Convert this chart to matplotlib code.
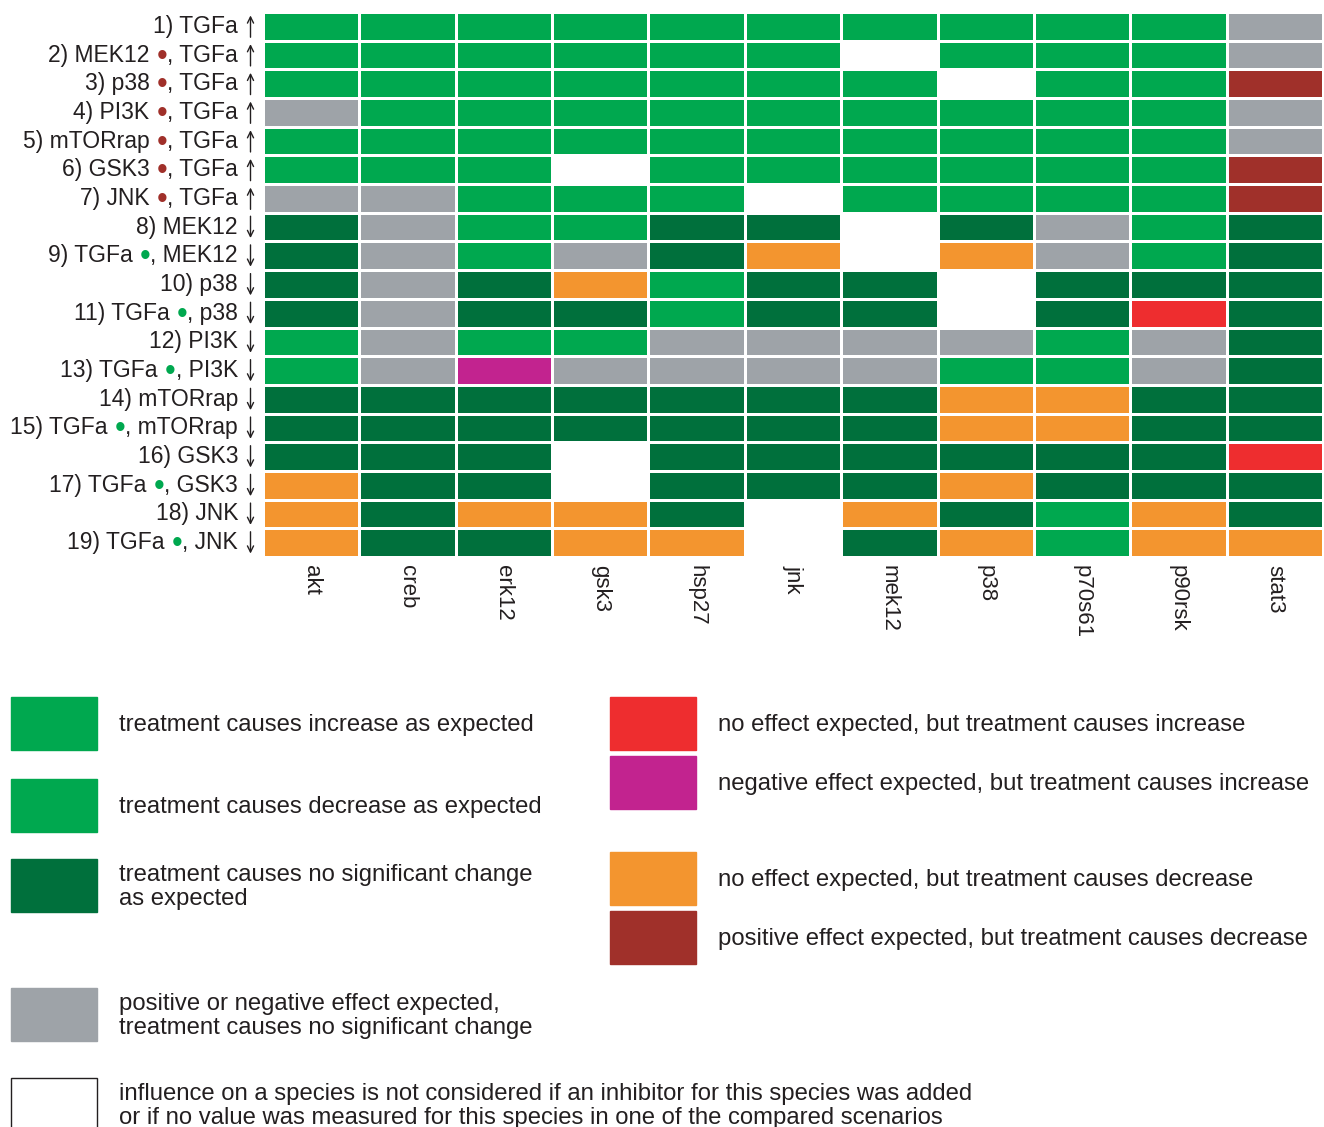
import numpy as np
import matplotlib
matplotlib.use("Agg")
import matplotlib.pyplot as plt
from matplotlib.colors import ListedColormap
from matplotlib.patches import Rectangle
from matplotlib.transforms import blended_transform_factory, offset_copy

plt.rcParams["font.family"] = ["Liberation Sans", "DejaVu Sans"]
TXT = "#231f20"

# measured species (columns)
species = ["akt", "creb", "erk12", "gsk3", "hsp27", "jnk", "mek12",
           "p38", "p70s61", "p90rsk", "stat3"]

# row labels split in pieces: prefix, coloured dot, suffix, arrow direction
row_prefix = ["1) TGFa", "2) MEK12", "3) p38", "4) PI3K", "5) mTORrap", "6) GSK3",
              "7) JNK", "8) MEK12", "9) TGFa", "10) p38", "11) TGFa", "12) PI3K",
              "13) TGFa", "14) mTORrap", "15) TGFa", "16) GSK3", "17) TGFa",
              "18) JNK", "19) TGFa"]
row_dot = [None, "inh", "inh", "inh", "inh", "inh", "inh", None, "stim", None, "stim",
           None, "stim", None, "stim", None, "stim", None, "stim"]
row_suffix = ["", ", TGFa", ", TGFa", ", TGFa", ", TGFa", ", TGFa", ", TGFa", "",
              ", MEK12", "", ", p38", "", ", PI3K", "", ", mTORrap", "", ", GSK3",
              "", ", JNK"]
row_arrow = ["up"] * 7 + ["down"] * 12

# outcome category for each (row, species)
outcome = [
    ["inc"] * 10 + ["pn"],
    ["inc"] * 6 + ["na"] + ["inc"] * 3 + ["pn"],
    ["inc"] * 7 + ["na", "inc", "inc", "pos"],
    ["pn"] + ["inc"] * 9 + ["pn"],
    ["inc"] * 10 + ["pn"],
    ["inc", "inc", "inc", "na"] + ["inc"] * 6 + ["pos"],
    ["pn", "pn", "inc", "inc", "inc", "na", "inc", "inc", "inc", "inc", "pos"],
    ["ns", "pn", "dec", "dec", "ns", "ns", "na", "ns", "pn", "dec", "ns"],
    ["ns", "pn", "dec", "pn", "ns", "nd", "na", "nd", "pn", "dec", "ns"],
    ["ns", "pn", "ns", "nd", "dec", "ns", "ns", "na", "ns", "ns", "ns"],
    ["ns", "pn", "ns", "ns", "dec", "ns", "ns", "na", "ns", "ni", "ns"],
    ["dec", "pn", "dec", "dec", "pn", "pn", "pn", "pn", "dec", "pn", "ns"],
    ["dec", "pn", "neg", "pn", "pn", "pn", "pn", "dec", "dec", "pn", "ns"],
    ["ns"] * 7 + ["nd", "nd", "ns", "ns"],
    ["ns"] * 7 + ["nd", "nd", "ns", "ns"],
    ["ns", "ns", "ns", "na", "ns", "ns", "ns", "ns", "ns", "ns", "ni"],
    ["nd", "ns", "ns", "na", "ns", "ns", "ns", "nd", "ns", "ns", "ns"],
    ["nd", "ns", "nd", "nd", "ns", "na", "nd", "ns", "dec", "nd", "ns"],
    ["nd", "ns", "ns", "nd", "nd", "na", "ns", "nd", "dec", "nd", "nd"],
]

categories = ["inc", "dec", "ns", "pn", "na", "ni", "neg", "nd", "pos"]
cat_colors = ["#00a84f", "#00a84f", "#00703c", "#9ea3a8", "#ffffff",
              "#ee2d2f", "#c2238f", "#f3952f", "#a0302a"]
cat_labels = [
    "treatment causes increase as expected",
    "treatment causes decrease as expected",
    "treatment causes no significant change\nas expected",
    "positive or negative effect expected,\ntreatment causes no significant change",
    "influence on a species is not considered if an inhibitor for this species was added\n"
    "or if no value was measured for this species in one of the compared scenarios",
    "no effect expected, but treatment causes increase",
    "negative effect expected, but treatment causes increase",
    "no effect expected, but treatment causes decrease",
    "positive effect expected, but treatment causes decrease",
]
dot_colors = {"inh": "#a0302a", "stim": "#00a84f"}

W, H = 1324, 1127
fig = plt.figure(figsize=(W / 100, H / 100), dpi=100)

# heatmap
ax = fig.add_axes([263 / W, 1 - 557 / H, 1060 / W, 545 / H])
idx = np.array([[categories.index(c) for c in r] for r in outcome])
ax.pcolormesh(idx, cmap=ListedColormap(cat_colors), vmin=-0.5, vmax=len(categories) - 0.5,
              edgecolors="white", linewidth=1.0)
ax.set_xlim(0, len(species))
ax.set_ylim(len(outcome), 0)
for s in ax.spines.values():
    s.set_visible(False)
ax.set_xticks(np.arange(len(species)) + 0.5)
ax.set_xticklabels(species, rotation=-90, va="top", ha="center", fontsize=16, color=TXT)
ax.set_yticks([])
ax.tick_params(axis="x", length=0, pad=6)

# row labels: thin arrow next to the grid, text built right to left
FS = 16.5
blend = blended_transform_factory(ax.transAxes, ax.transData)
arrow_tr = offset_copy(blend, fig=fig, x=-12.5, y=0, units="dots")
half = 0.38  # half arrow length in row units
for i in range(len(outcome)):
    y = i + 0.5
    head, tail = (y - half, y + half) if row_arrow[i] == "up" else (y + half, y - half)
    ax.annotate("", xy=(0, head), xycoords=arrow_tr, xytext=(0, tail),
                textcoords=arrow_tr,
                arrowprops=dict(arrowstyle="->", lw=1.0, color=TXT,
                                shrinkA=0, shrinkB=0, mutation_scale=11))
    kw = dict(fontsize=FS, color=TXT, va="center", ha="right", textcoords="offset pixels")
    first = row_prefix[i] if row_dot[i] is None else row_suffix[i]
    t = ax.annotate(first, xy=(0, y), xycoords=("axes fraction", "data"),
                    xytext=(-25, 0), **kw)
    if row_dot[i] is None:
        continue
    d = ax.annotate("•", xy=(0, 0.5), xycoords=t, xytext=(0, -1.5),
                    textcoords="offset pixels", fontsize=22,
                    color=dot_colors[row_dot[i]], va="center", ha="right")
    ax.annotate(row_prefix[i], xy=(0, 0.5), xycoords=d, xytext=(-7, 1.5), **kw)

# legend in pixel-like coordinates
lg = fig.add_axes([0, 0, 1, 487 / H])
lg.set_xlim(0, W)
lg.set_ylim(H, 640)
lg.axis("off")
leg_order = [0, 1, 2, 3, 4, 5, 6, 7, 8]
leg_x = [11, 11, 11, 11, 11, 610, 610, 610, 610]
leg_top = [697, 779, 859, 988, 1078, 697, 756, 852, 911]
for k, x0, y0 in zip(leg_order, leg_x, leg_top):
    edge = TXT if categories[k] == "na" else cat_colors[k]
    lg.add_patch(Rectangle((x0, y0), 86, 53, facecolor=cat_colors[k],
                           edgecolor=edge, linewidth=1.0, clip_on=False))
    lg.text(x0 + 108, y0 + 28, cat_labels[k], fontsize=17.2, color=TXT,
            va="center", ha="left", linespacing=1.1)

fig.savefig("out.png", dpi=100)
